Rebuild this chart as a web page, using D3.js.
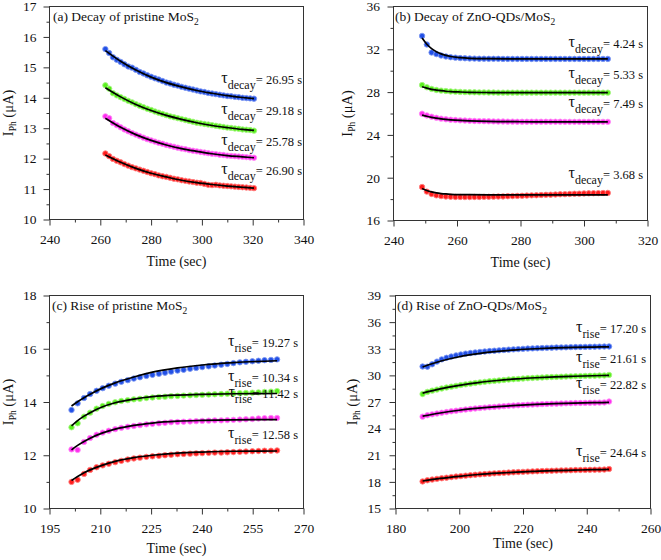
<!DOCTYPE html>
<html><head><meta charset="utf-8">
<script src="https://cdn.jsdelivr.net/npm/d3@7"></script>
<style>body{margin:0;background:#fff}svg{display:block}svg text{font-family:'Liberation Serif','Times New Roman',Tinos,'DejaVu Serif',serif !important;fill:#111}</style>
</head><body>
<script>
// ---------- DATA ----------
const seriesNames = ["blue","green","magenta","red"];
const seriesColors = ["#2250e6","#5af01e","#ff2ef0","#ff1c1c"];
const haloColors = ["#7d97f0","#a6f582","#ff8df6","#ff8080"];

// Panel (a) decay pristine MoS2
const timeA = [262,263.5,265,266.5,268,269.5,271,272.5,274,275.5,277,278.5,280,281.5,283,284.5,286,287.5,289,290.5,292,293.5,295,296.5,298,299.5,301,302.5,304,305.5,307,308.5,310,311.5,313,314.5,316,317.5,319,320.5];
const blueA = [15.6,15.47,15.33,15.25,15.18,15.1,15.03,14.99,14.92,14.85,14.8,14.74,14.69,14.64,14.6,14.55,14.5,14.47,14.43,14.4,14.36,14.33,14.3,14.27,14.24,14.21,14.19,14.16,14.14,14.12,14.1,14.08,14.06,14.05,14.03,14.02,14.0,13.99,13.98,13.97];
const greenA = [14.41,14.3,14.15,14.08,14.02,13.96,13.9,13.85,13.79,13.74,13.69,13.64,13.6,13.55,13.51,13.47,13.43,13.39,13.36,13.33,13.3,13.27,13.24,13.21,13.18,13.16,13.14,13.12,13.1,13.08,13.06,13.04,13.02,13.01,12.99,12.98,12.96,12.95,12.94,12.92];
const magentaA = [13.39,13.33,13.17,13.1,13.03,12.96,12.9,12.84,12.79,12.74,12.69,12.64,12.6,12.56,12.52,12.49,12.45,12.42,12.39,12.36,12.33,12.31,12.28,12.26,12.24,12.22,12.2,12.18,12.16,12.15,12.13,12.12,12.1,12.09,12.08,12.07,12.06,12.05,12.04,12.03];
const redA = [12.17,12.08,11.99,11.93,11.88,11.82,11.77,11.72,11.68,11.64,11.6,11.56,11.52,11.49,11.45,11.42,11.4,11.37,11.34,11.32,11.29,11.27,11.25,11.23,11.21,11.2,11.17,11.14,11.13,11.14,11.12,11.11,11.1,11.09,11.08,11.07,11.06,11.05,11.04,11.03];
const fitTimeA = [262,268,274,280,286,292,298,304,310,316,320.5];
const fitBlueA = [15.55,15.2,14.91,14.68,14.5,14.36,14.24,14.15,14.07,14.01,13.97];
const fitGreenA = [14.33,14.03,13.78,13.58,13.42,13.29,13.18,13.09,13.02,12.96,12.93];
const fitMagentaA = [13.33,13.03,12.79,12.6,12.45,12.33,12.24,12.16,12.1,12.06,12.03];
const fitRedA = [12.12,11.88,11.68,11.52,11.4,11.29,11.21,11.15,11.1,11.06,11.03];
const tauA = ["26.95","29.18","25.78","26.90"];
const xTicksA = [240,260,280,300,320,340];
const yTicksA = [10,11,12,13,14,15,16,17];

// Panel (b) decay ZnO-QDs/MoS2
const timeB = [249,250.5,252,253.5,255,256.5,258,259.5,261,262.5,264,265.5,267,268.5,270,271.5,273,274.5,276,277.5,279,280.5,282,283.5,285,286.5,288,289.5,291,292.5,294,295.5,297,298.5,300,301.5,303,304.5,306,307.5];
const blueB = [33.25,32.45,31.7,31.55,31.42,31.33,31.26,31.22,31.18,31.16,31.14,31.13,31.12,31.12,31.11,31.11,31.11,31.1,31.1,31.1,31.1,31.1,31.1,31.1,31.1,31.1,31.1,31.1,31.1,31.1,31.1,31.1,31.1,31.1,31.1,31.1,31.1,31.1,31.1,31.1];
const greenB = [28.66,28.45,28.3,28.2,28.14,28.1,28.06,28.04,28.02,28.0,27.99,27.98,27.97,27.97,27.96,27.96,27.95,27.95,27.95,27.95,27.95,27.95,27.95,27.95,27.95,27.95,27.95,27.95,27.95,27.95,27.95,27.95,27.95,27.95,27.95,27.95,27.95,27.95,27.95,27.95];
const magentaB = [25.98,25.82,25.7,25.6,25.52,25.46,25.42,25.39,25.36,25.34,25.32,25.3,25.29,25.28,25.27,25.26,25.25,25.25,25.24,25.24,25.23,25.23,25.23,25.23,25.23,25.23,25.23,25.23,25.23,25.23,25.22,25.22,25.22,25.22,25.22,25.22,25.22,25.22,25.22,25.22];
const redB = [19.13,18.7,18.48,18.35,18.28,18.24,18.22,18.2,18.2,18.19,18.19,18.2,18.2,18.21,18.22,18.23,18.24,18.25,18.27,18.28,18.3,18.31,18.33,18.35,18.36,18.38,18.4,18.41,18.43,18.45,18.46,18.48,18.5,18.51,18.53,18.54,18.55,18.56,18.57,18.58];
const fitTimeB = [249,250.5,252,253.5,255,256.5,258,261,264,270,280,290,307.5];
const fitBlueB = [33.05,32.47,32.06,31.77,31.57,31.43,31.33,31.22,31.16,31.12,31.1,31.1,31.1];
const fitGreenB = [28.5,28.37,28.26,28.19,28.13,28.08,28.05,28.01,27.98,27.96,27.95,27.95,27.95];
const fitMagentaB = [25.85,25.74,25.64,25.57,25.5,25.45,25.41,25.35,25.31,25.26,25.23,25.22,25.22];
const fitRedB = [19.0,18.8,18.67,18.58,18.52,18.48,18.45,18.42,18.41,18.4,18.4,18.4,18.4];
const tauB = ["4.24","5.33","7.49","3.68"];
const xTicksB = [240,260,280,300,320];
const yTicksB = [16,20,24,28,32,36];

// Panel (c) rise pristine MoS2
const timeC = [201.5,203.3,205.2,207.0,208.9,210.7,212.5,214.4,216.2,218.1,219.9,221.7,223.6,225.4,227.3,229.1,230.9,232.8,234.6,236.5,238.3,240.1,242.0,243.8,245.7,247.5,249.3,251.2,253.0,254.9,256.7,258.5,260.4,262.2];
const blueC = [13.7,13.95,14.15,14.3,14.42,14.52,14.61,14.69,14.76,14.82,14.88,14.93,14.98,15.02,15.06,15.1,15.14,15.18,15.21,15.25,15.28,15.31,15.34,15.37,15.4,15.43,15.46,15.49,15.51,15.53,15.55,15.57,15.58,15.6];
const greenC = [13.05,13.2,13.45,13.6,13.75,13.85,13.93,13.99,14.04,14.07,14.1,14.12,14.15,14.17,14.19,14.2,14.22,14.23,14.24,14.25,14.26,14.27,14.28,14.29,14.3,14.31,14.32,14.33,14.34,14.35,14.36,14.38,14.39,14.41];
const magentaC = [12.22,12.2,12.5,12.65,12.77,12.85,12.92,12.98,13.03,13.07,13.1,13.13,13.16,13.18,13.2,13.22,13.24,13.25,13.26,13.27,13.28,13.29,13.3,13.31,13.31,13.32,13.33,13.34,13.35,13.36,13.38,13.39,13.4,13.4];
const redC = [11.0,11.08,11.3,11.45,11.55,11.62,11.68,11.74,11.79,11.84,11.88,11.91,11.94,11.96,11.98,12.0,12.02,12.04,12.05,12.06,12.07,12.08,12.09,12.1,12.1,12.11,12.12,12.13,12.14,12.15,12.16,12.17,12.17,12.18];
const fitTimeC = [201.5,203.3,205.2,207,210.7,214.4,219.9,225.4,232.8,240.1,249.3,262.2];
const fitBlueC = [13.85,14.01,14.16,14.29,14.53,14.72,14.94,15.12,15.28,15.39,15.48,15.55];
const fitGreenC = [13.1,13.3,13.47,13.6,13.82,13.97,14.11,14.2,14.26,14.29,14.31,14.32];
const fitMagentaC = [12.2,12.37,12.52,12.64,12.84,12.98,13.12,13.21,13.28,13.31,13.33,13.34];
const fitRedC = [11.05,11.2,11.34,11.45,11.63,11.77,11.91,12.0,12.08,12.12,12.15,12.16];
const tauC = ["19.27","10.34","11.42","12.58"];
const xTicksC = [195,210,225,240,255,270];
const yTicksC = [10,12,14,16,18];

// Panel (d) rise ZnO-QDs/MoS2
const timeD = [188.5,190,191.5,193,194.5,196,197.5,199,200.5,202,203.5,205,206.5,208,209.5,211,212.5,214,215.5,217,218.5,220,221.5,223,224.5,226,227.5,229,230.5,232,233.5,235,236.5,238,239.5,241,242.5,244,245.5,247];
const blueD = [31.0,30.98,31.25,31.55,31.8,31.98,32.12,32.25,32.35,32.45,32.52,32.58,32.64,32.69,32.74,32.78,32.82,32.86,32.9,32.93,32.96,32.99,33.02,33.04,33.06,33.08,33.1,33.12,33.14,33.15,33.16,33.18,33.19,33.2,33.21,33.22,33.23,33.24,33.25,33.26];
const greenD = [27.9,28.14,28.28,28.4,28.52,28.63,28.73,28.82,28.91,28.99,29.07,29.14,29.21,29.27,29.33,29.38,29.43,29.48,29.53,29.57,29.6,29.64,29.68,29.71,29.74,29.76,29.79,29.81,29.83,29.85,29.87,29.89,29.91,29.92,29.94,29.95,29.96,29.98,29.99,30.05];
const magentaD = [25.35,25.51,25.61,25.7,25.79,25.87,25.95,26.02,26.09,26.15,26.21,26.27,26.32,26.37,26.41,26.45,26.49,26.53,26.57,26.6,26.63,26.66,26.69,26.71,26.73,26.76,26.78,26.8,26.81,26.83,26.85,26.86,26.88,26.89,26.9,26.91,26.92,26.93,26.95,27.05];
const redD = [18.05,18.18,18.26,18.34,18.41,18.47,18.54,18.6,18.65,18.7,18.75,18.8,18.84,18.88,18.92,18.96,18.99,19.02,19.05,19.08,19.11,19.13,19.16,19.18,19.2,19.22,19.24,19.25,19.27,19.29,19.3,19.31,19.33,19.34,19.35,19.36,19.37,19.38,19.39,19.45];
const fitTimeD = [188.5,194,200,206,212,218,224,230,236,242,247];
const fitBlueD = [30.95,31.59,32.1,32.45,32.7,32.88,33.0,33.09,33.15,33.19,33.22];
const fitGreenD = [28.0,28.48,28.88,29.19,29.42,29.6,29.73,29.83,29.9,29.96,30.0];
const fitMagentaD = [25.4,25.76,26.07,26.3,26.48,26.62,26.73,26.81,26.87,26.92,26.95];
const fitRedD = [18.1,18.39,18.63,18.83,18.98,19.1,19.19,19.27,19.32,19.37,19.4];
const tauD = ["17.20","21.61","22.82","24.64"];
const xTicksD = [180,200,220,240,260];
const yTicksD = [15,18,21,24,27,30,33,36,39];

// ---------- LAYOUT ----------
const panels = [
  {title:"(a) Decay of pristine MoS", sub:"decay", time:timeA, series:[blueA,greenA,magentaA,redA],
   fitTime:fitTimeA, fits:[fitBlueA,fitGreenA,fitMagentaA,fitRedA], tau:tauA,
   xTicks:xTicksA, yTicks:yTicksA, xMinorStep:10, yMinorStep:0.5,
   L:49.5, R:303.5, T:6.5, B:219.5, titleX:53, titleY:21, yPad:7, yLabX:12.5, xLabY:266,
   labY:[14.57,13.56,12.56,11.6], labR:302},
  {title:"(b) Decay of ZnO-QDs/MoS", sub:"decay", time:timeB, series:[blueB,greenB,magentaB,redB],
   fitTime:fitTimeB, fits:[fitBlueB,fitGreenB,fitMagentaB,fitRedB], tau:tauB,
   xTicks:xTicksB, yTicks:yTicksB, xMinorStep:10, yMinorStep:2,
   L:393.5, R:647.5, T:6.5, B:220.5, titleX:395, titleY:21, yPad:7.5, yLabX:352, xLabY:267,
   labY:[32.48,29.57,26.88,20.22], labR:643},
  {title:"(c) Rise of pristine MoS", sub:"rise", time:timeC, series:[blueC,greenC,magentaC,redC],
   fitTime:fitTimeC, fits:[fitBlueC,fitGreenC,fitMagentaC,fitRedC], tau:tauC,
   xTicks:xTicksC, yTicks:yTicksC, xMinorStep:7.5, yMinorStep:1,
   L:49.5, R:303.5, T:295.5, B:508.5, titleX:52, titleY:310, yPad:7, yLabX:12.5, xLabY:553,
   labY:[16.2,14.91,14.29,12.76], labR:298},
  {title:"(d) Rise of ZnO-QDs/MoS", sub:"rise", time:timeD, series:[blueD,greenD,magentaD,redD],
   fitTime:fitTimeD, fits:[fitBlueD,fitGreenD,fitMagentaD,fitRedD], tau:tauD,
   xTicks:xTicksD, yTicks:yTicksD, xMinorStep:10, yMinorStep:1.5,
   L:395.5, R:650.5, T:295.5, B:508.5, titleX:397, titleY:310, yPad:8.5, yLabX:357, xLabY:548,
   labY:[35.17,31.87,28.88,21.29], labR:646}
];

const FONT = "'Liberation Serif','Times New Roman',Tinos,'DejaVu Serif',serif";
const svg = d3.select("body").append("svg").attr("width",661).attr("height",560)
  .attr("font-family", FONT);
const FS = 13.5;

panels.forEach(p => {
  const xd = d3.extent(p.xTicks), yd = d3.extent(p.yTicks);
  const x = d3.scaleLinear().domain(xd).range([p.L,p.R]);
  const y = d3.scaleLinear().domain(yd).range([p.B,p.T]);
  const g = svg.append("g");

  const xMinor = d3.range(xd[0], xd[1]+1e-9, p.xMinorStep).filter(v => !p.xTicks.includes(v));
  const yMinor = d3.range(yd[0], yd[1]+1e-9, p.yMinorStep).filter(v => !p.yTicks.some(t => Math.abs(t-v)<1e-9));
  g.append("g").attr("transform",`translate(0,${p.B})`)
    .call(d3.axisBottom(x).tickValues(xMinor).tickSize(3).tickSizeOuter(0).tickFormat(""))
    .call(s => s.select(".domain").remove());
  g.append("g").attr("transform",`translate(${p.L},0)`)
    .call(d3.axisLeft(y).tickValues(yMinor).tickSize(3).tickSizeOuter(0).tickFormat(""))
    .call(s => s.select(".domain").remove());

  const xa = g.append("g").attr("transform",`translate(0,${p.B})`)
    .call(d3.axisBottom(x).tickValues(p.xTicks).tickSize(6).tickSizeOuter(0).tickPadding(8.5).tickFormat(d3.format("d")));
  const ya = g.append("g").attr("transform",`translate(${p.L},0)`)
    .call(d3.axisLeft(y).tickValues(p.yTicks).tickSize(6).tickSizeOuter(0).tickPadding(p.yPad).tickFormat(d3.format("d")));
  [xa,ya].forEach(a => {
    a.attr("font-family", FONT).attr("font-size", FS);
    a.select(".domain").remove();
    a.selectAll("text").attr("font-family", FONT).style("font-size",FS+"px").attr("fill","#111");
  });
  g.selectAll(".tick line").attr("stroke","#333");

  g.append("rect").attr("x",p.L).attr("y",p.T).attr("width",p.R-p.L).attr("height",p.B-p.T)
    .attr("fill","none").attr("stroke","#333").attr("stroke-width",1);

  p.series.forEach((vals,si) => {
    g.append("g").selectAll("circle").data(vals).join("circle")
      .attr("cx",(d,i)=>x(p.time[i])).attr("cy",d=>y(d)).attr("r",2.7)
      .attr("fill",seriesColors[si]).attr("stroke",haloColors[si]).attr("stroke-width",0.9);
  });
  const line = d3.line().x((d,i)=>x(p.fitTime[i])).y(d=>y(d)).curve(d3.curveMonotoneX);
  p.fits.forEach(vals => {
    g.append("path").attr("d",line(vals)).attr("fill","none").attr("stroke","#000").attr("stroke-width",1.7);
  });

  p.tau.forEach((tv,si) => {
    const yc = y(p.labY[si]);
    const t = g.append("text").attr("text-anchor","end").attr("x",p.labR).attr("y",yc+4)
      .attr("font-family", FONT).style("font-size","12.5px");
    t.append("tspan").text("\u03C4").style("font-size","16px").attr("dy",-1);
    t.append("tspan").text(p.sub).style("font-size","12px").attr("dy",6);
    t.append("tspan").text("= "+tv+" s").attr("dy",-5);
  });

  const tt = g.append("text").attr("x",p.titleX).attr("y",p.titleY).attr("font-family", FONT).style("font-size","13.5px");
  tt.append("tspan").text(p.title);
  tt.append("tspan").text("2").style("font-size","9.5px").attr("dy",4);

  g.append("text").attr("x",(p.L+p.R)/2).attr("y",p.xLabY).attr("text-anchor","middle")
    .attr("font-family", FONT).style("font-size","14px").text("Time (sec)");
  const yl = g.append("text").attr("transform",`translate(${p.yLabX},${(p.T+p.B)/2}) rotate(-90)`)
    .attr("text-anchor","middle").attr("font-family", FONT).style("font-size","14.5px");
  yl.append("tspan").text("I");
  yl.append("tspan").text("Ph").style("font-size","9.5px").attr("dy",3);
  yl.append("tspan").text(" (\u03BCA)").attr("dy",-3);
});
</script>
</body></html>
